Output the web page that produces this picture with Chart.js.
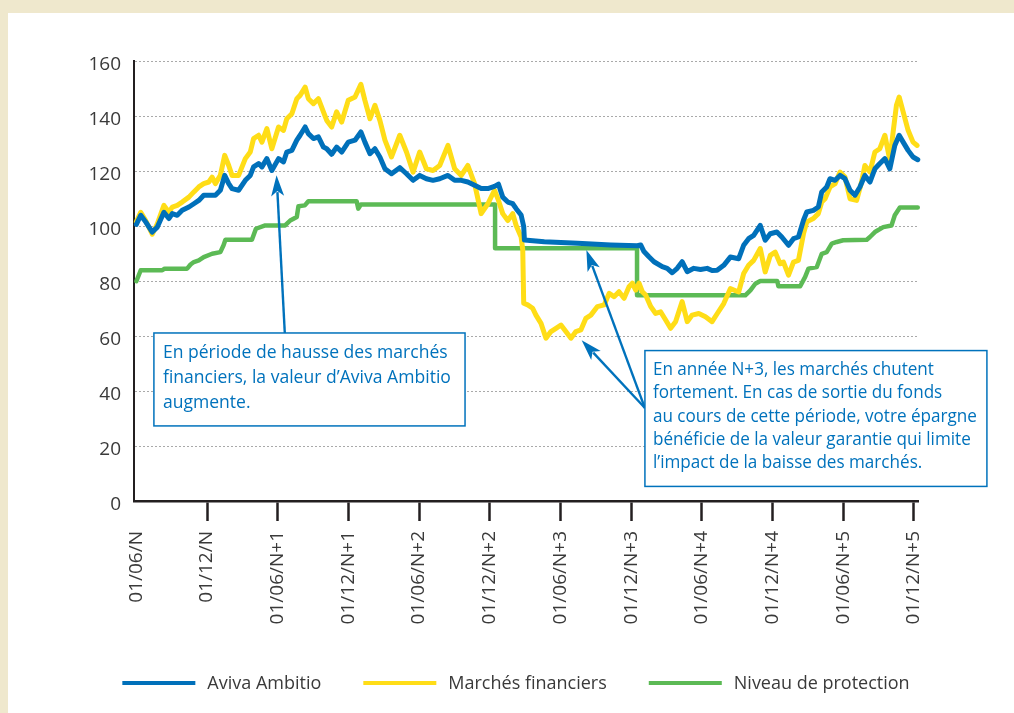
<!DOCTYPE html>
<html><head><meta charset="utf-8">
<script src="https://cdn.jsdelivr.net/npm/chart.js@4.4.1/dist/chart.umd.min.js"></script>
<style>
html,body{margin:0;padding:0;background:#efe8cd;width:1014px;height:713px;overflow:hidden}
#wrap{position:absolute;left:8px;top:13px;width:1006px;height:700px;background:#fff}
canvas{display:block}
</style></head><body>
<div id="wrap"><canvas id="c" width="1006" height="700"></canvas></div>
<script>
// x = months since 01/06/N
const xTicks = [0,6,12,18,24,30,36,42,48,54,60,66];
const xTickLabels = ['01/06/N','01/12/N','01/06/N+1','01/12/N+1','01/06/N+2','01/12/N+2','01/06/N+3','01/12/N+3','01/06/N+4','01/12/N+4','01/06/N+5','01/12/N+5'];
const yTicks = [0,20,40,60,80,100,120,140,160];

const seriesLabels = ['Aviva Ambitio','Marchés financiers','Niveau de protection'];

const blueMonths = [0,0.37,0.79,1.35,1.78,2.34,2.76,3.05,3.47,3.89,
 4.46,4.88,5.3,5.72,6.15,6.71,7.13,7.5,7.84,8.12,
 8.68,9.25,9.67,9.95,10.38,10.66,11.08,11.5,12.07,12.49,
 12.77,13.2,13.62,13.9,14.33,14.6,15.03,15.45,15.88,16.16,
 16.58,17,17.43,17.99,18.56,19.06,19.4,19.83,20.25,20.67,
 21.1,21.66,22.36,22.93,23.49,24.05,24.62,25.18,25.75,26.45,
 27.02,27.58,28.14,28.71,29.27,29.84,30.4,30.74,31.1,31.53,
 31.95,32.24,32.66,32.88,32.94,34.63,37.45,40.27,42.53,42.81,
 43.09,43.51,43.94,44.64,45.06,45.49,45.91,46.33,46.76,47.32,
 47.89,48.45,48.87,49.3,49.86,50.42,51.13,51.55,51.97,52.4,
 52.96,53.38,53.81,54.37,54.79,55.36,55.78,56.2,56.63,56.91,
 57.47,57.89,58.18,58.6,58.88,59.31,59.73,60.15,60.58,61,
 61.42,61.84,62.27,62.69,63.11,63.54,63.96,64.38,64.75,65.09,
 65.51,65.93,66.33];
const blueValues = [100.6,103.9,101.5,97.8,99.6,105,102.7,104.5,103.9,105.7,
 106.9,108.1,109.3,111.2,111.2,111.2,113,118.4,115.4,113.6,
 113,116.6,118.4,121.5,122.7,121.5,124.5,120.2,124.5,123.3,
 126.9,127.5,131.2,133,136,133.6,131.8,132.4,128.7,128.1,
 126.1,128.7,126.9,130.5,131.2,134.2,130.5,126.3,128.1,125.1,
 120.8,119,121.2,119,116.6,118.4,117.2,116.6,117.2,118.4,
 116.6,116.6,116,114.8,113.6,113.6,114.4,115.2,110.5,108.7,
 108.1,106.3,104,99.8,94.9,94.3,93.7,93.1,92.8,93.1,
 90.7,88.8,87,85.2,84.6,83,84.6,87,83.4,84.6,
 84.2,84.6,83.8,83.9,85.7,88.7,88.1,93,95.4,96.6,
 100.2,94.8,97.2,97.8,96,93,95.4,96,102.1,105.1,
 105.7,106.9,112.4,114.2,117.2,116.6,118.4,117.2,113,111.2,
 114.2,118.4,116,120.8,122.7,124.5,120.8,129.3,133,130.5,
 127.5,125.1,124.1];

const yellowMonths = [0,0.37,0.79,1.35,1.78,2.34,2.76,3.05,3.47,3.89,
 4.46,4.88,5.3,5.72,6.15,6.43,6.71,7.13,7.5,7.84,
 8.12,8.68,9.25,9.67,9.95,10.38,10.66,11.08,11.5,12.07,
 12.49,12.77,13.2,13.62,13.9,14.33,14.6,15.03,15.45,15.88,
 16.16,16.58,17,17.43,17.99,18.56,19.06,19.4,19.83,20.25,
 20.67,21.1,21.66,22.36,22.93,23.49,24.05,24.62,25.18,25.75,
 26.45,27.02,27.58,28.14,28.71,29.27,29.84,30.4,30.74,31.1,
 31.53,31.95,32.24,32.66,32.8,32.88,33.22,33.64,33.92,34.35,
 34.77,35.19,35.62,36.04,36.46,36.89,37.31,37.73,38.15,38.58,
 39.14,39.71,40.13,40.55,40.97,41.4,41.82,42.1,42.39,42.67,
 42.95,43.23,43.66,44.08,44.5,44.93,45.35,45.77,46.33,46.76,
 47.18,47.74,48.31,48.87,49.3,49.86,50.42,51.13,51.55,51.97,
 52.4,52.96,53.38,53.81,54.23,54.65,54.93,55.36,55.78,56.2,
 56.63,56.91,57.47,57.89,58.18,58.46,58.88,59.31,59.73,60.15,
 60.58,61.14,61.56,61.84,62.27,62.69,63.11,63.54,63.96,64.24,
 64.52,64.75,65.09,65.51,65.93,66.28];
const yellowValues = [101.5,105,102,97,100.8,107.5,105,106.9,107.5,108.7,
 110.5,112.4,114.2,115.4,116,117.8,115.4,118.4,125.7,122,
 118.4,118.4,124.5,126.9,131.8,133,130.5,135.4,128.1,136,
 134.8,139,140.8,146.3,147.5,150.5,146.3,144.5,146.3,141.5,
 138.4,136,141.5,137.8,145.7,146.9,151.5,145.7,139,143.9,
 138.4,131.2,125.1,133,126.9,119.6,126.9,120.8,120.2,122,
 129.3,120.8,118.4,122,115.4,104.5,108.1,113,109.3,104.5,
 102,104.5,100.2,96,91.3,71.9,71.3,70.1,67.6,64.6,
 59.2,61.6,62.8,64,61.6,59.2,61.6,62.2,66.4,67.6,
 70.7,71.3,75.5,74.3,76.1,73.7,77.9,79.2,76.7,79.2,
 76.1,74.9,70.7,68.2,68.8,65.8,62.8,65.2,72.5,65.2,
 67.6,68.2,67,65.2,68.1,71.8,77.2,76,82.7,85.7,
 87.5,91.8,83.3,89.3,90.5,86.3,86.9,82.1,86.9,87.5,
 97.2,101.5,102.7,104.5,108.7,109.9,114.2,115.4,119.6,117.8,
 109.9,109.3,116,122,119.6,126.9,128.1,133,123.9,134.2,
 143.9,146.9,141.5,134.8,130.5,129.3];

const greenMonths = [0,0.37,2.2,2.4,4.31,4.6,4.88,5.3,5.72,6.43,
 7.13,7.4,7.56,9.81,10.15,10.94,12.63,13.06,13.62,13.76,
 14.3,14.6,18.7,18.84,19.06,30.45,30.45,42.5,42.5,51.69,
 52.12,52.54,52.96,54.4,54.5,56.35,56.77,57.05,57.76,58.18,
 58.6,59.03,59.45,60,62,62.27,62.69,63.4,64.1,64.38,
 64.81,66.33];
const greenValues = [79.9,83.9,83.9,84.5,84.5,86,86.9,87.5,88.7,89.9,
 90.5,93,95,95,99,100.2,100.2,102,103.3,107.2,
 107.5,109,109,106.3,107.8,107.8,91.9,91.9,74.8,74.8,
 76.6,79,80,80,78.1,78.1,81.5,84.5,85.1,89.9,
 90.5,93.6,94.2,94.8,95,96,97.8,99.6,100.2,103.9,
 106.7,106.7];

const note1Lines = ['En période de hausse des marchés','financiers, la valeur d’Aviva Ambitio','augmente.'];
const note2Lines = ['En année N+3, les marchés chutent','fortement. En cas de sortie du fonds','au cours de cette période, votre épargne','bénéficie de la valeur garantie qui limite','l’impact de la baisse des marchés.'];

const BLUE = '#0070ba', YELLOW = '#ffdd17', GREEN = '#5cba55', AXIS = '#231f20', TXT = '#3a3a3a', NOTE = '#0072bc';
const FONT = '"Open Sans", sans-serif';

function toXY(xs, ys){ return xs.map((x,i)=>({x:x, y:ys[i]})); }

const notes = [
  {box:{x0:1.49, x1:27.9, y0:61.1, y1:27.3}, lines:note1Lines, inset:9, baseline:25.3, lh:25, width:288,
   arrows:[{from:[12.6,61.1], to:[11.9,118.5]}]},
  {box:{x0:43.17, x1:72.2, y0:54.7, y1:5.3}, lines:note2Lines, inset:8, baseline:24.5, lh:23.3, width:324,
   arrows:[{from:[43.17,33.8], to:[37.8,58.5]},{from:[43.17,33.8], to:[38.2,91.3]}]}
];

function drawArrow(ctx, x0, y0, x1, y1){
  const a = Math.atan2(y1-y0, x1-x0), L = 21, W = 6.5;
  const bx = x1 - L*Math.cos(a), by = y1 - L*Math.sin(a);
  ctx.beginPath(); ctx.moveTo(x0,y0); ctx.lineTo(bx + 4*Math.cos(a), by + 4*Math.sin(a)); ctx.stroke();
  ctx.beginPath(); ctx.moveTo(x1,y1);
  ctx.lineTo(bx + W*Math.sin(a), by - W*Math.cos(a));
  ctx.lineTo(bx + 5*Math.cos(a), by + 5*Math.sin(a));
  ctx.lineTo(bx - W*Math.sin(a), by + W*Math.cos(a));
  ctx.closePath(); ctx.fill();
}

const notePlugin = {
  id:'notes',
  afterDatasetsDraw(chart){
    const ctx = chart.ctx, xs = chart.scales.x, ys = chart.scales.y;
    ctx.save();
    notes.forEach(n => {
      ctx.strokeStyle = NOTE; ctx.fillStyle = NOTE; ctx.lineWidth = 2.4;
      n.arrows.forEach(ar => drawArrow(ctx, xs.getPixelForValue(ar.from[0]), ys.getPixelForValue(ar.from[1]),
                                            xs.getPixelForValue(ar.to[0]), ys.getPixelForValue(ar.to[1])));
      const L = xs.getPixelForValue(n.box.x0), R = xs.getPixelForValue(n.box.x1);
      const T = ys.getPixelForValue(n.box.y0), B = ys.getPixelForValue(n.box.y1);
      ctx.fillStyle = '#fff'; ctx.fillRect(L, T, R-L, B-T);
      ctx.lineWidth = 1.5; ctx.strokeStyle = NOTE; ctx.strokeRect(L, T, R-L, B-T);
      ctx.font = '19px ' + FONT; ctx.fillStyle = NOTE; ctx.textBaseline = 'alphabetic'; ctx.textAlign = 'left';
      const widest = Math.max(...n.lines.map(l => ctx.measureText(l).width));
      const k = n.width / widest;
      n.lines.forEach((l,i) => {
        ctx.save(); ctx.translate(L + n.inset, T + n.baseline + i*n.lh); ctx.scale(k,1);
        ctx.fillText(l, 0, 0); ctx.restore();
      });
    });
    ctx.restore();
  }
};

const legendPlugin = {
  id:'lineLegend',
  afterDraw(chart){
    const ctx = chart.ctx;
    ctx.save();
    ctx.font = '18px ' + FONT;
    const items = chart.data.datasets.map(d => ({label:d.label, color:d.borderColor, w:ctx.measureText(d.label).width}));
    const lineW = 73, gap = 12, itemGap = 42;
    const total = items.reduce((s,it) => s + lineW + gap + it.w, 0) + itemGap*(items.length-1);
    let x = 508 - total/2; const y = 670;
    items.forEach(it => {
      ctx.fillStyle = it.color; ctx.fillRect(x, y-2, lineW, 4);
      x += lineW + gap;
      ctx.fillStyle = TXT; ctx.textBaseline = 'middle'; ctx.fillText(it.label, x, y+1);
      x += it.w + itemGap;
    });
    ctx.restore();
  }
};

const lineStyle = {pointRadius:0, tension:0, fill:false, borderJoinStyle:'round', borderCapStyle:'round', clip:4};

new Chart(document.getElementById('c'), {
  type:'line',
  data:{datasets:[
    Object.assign({label:seriesLabels[0], data:toXY(blueMonths, blueValues), borderColor:BLUE, backgroundColor:BLUE, borderWidth:5}, lineStyle),
    Object.assign({label:seriesLabels[1], data:toXY(yellowMonths, yellowValues), borderColor:YELLOW, backgroundColor:YELLOW, borderWidth:5}, lineStyle),
    Object.assign({label:seriesLabels[2], data:toXY(greenMonths, greenValues), borderColor:GREEN, backgroundColor:GREEN, borderWidth:4.5}, lineStyle)
  ]},
  options:{
    responsive:false, animation:false, devicePixelRatio:1,
    layout:{padding:{top:48, right:96, bottom:62, left:0}},
    plugins:{legend:{display:false}, tooltip:{enabled:false}},
    scales:{
      x:{type:'linear', min:-0.2, max:66.35,
        afterBuildTicks: s => { s.ticks = xTicks.map(v => ({value:v})); },
        afterFit: s => { s.height = 150; },
        grid:{drawOnChartArea:false, drawTicks:true, tickLength:20, tickWidth:2.5,
              tickColor: c => c.index === 0 ? 'rgba(0,0,0,0)' : AXIS},
        border:{color:AXIS, width:2.5},
        ticks:{autoSkip:false, minRotation:90, maxRotation:90, padding:10, color:TXT,
               font:{family:FONT, size:19}, callback:(v,i) => xTickLabels[i]}},
      y:{min:0, max:160,
        afterBuildTicks: s => { s.ticks = yTicks.map(v => ({value:v})); },
        afterFit: s => { s.width = 126; },
        grid:{color:'#a9a9a9', lineWidth:1, drawTicks:false},
        border:{display:true, color:AXIS, width:2, dash:[2,2]},
        ticks:{padding:13, labelOffset:4, color:TXT, font:{family:FONT, size:19}}}
    }
  },
  plugins:[notePlugin, legendPlugin]
});
</script>
</body></html>
